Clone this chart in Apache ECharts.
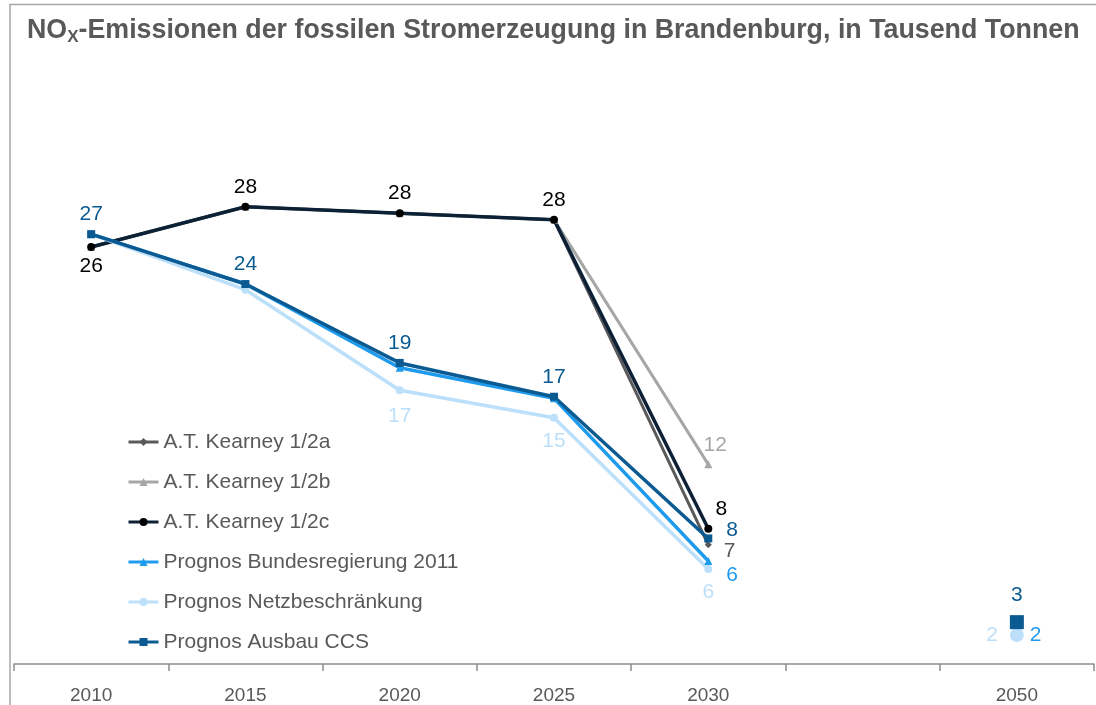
<!DOCTYPE html>
<html>
<head>
<meta charset="utf-8">
<script src="https://cdn.jsdelivr.net/npm/echarts@6/dist/echarts.min.js"></script>
<style>html,body{margin:0;padding:0;background:#fff;}#c{width:1096px;height:705px;}</style>
</head>
<body>
<div id="c"></div>
<script>
const categories = ['2010', '2015', '2020', '2025', '2030', '', '2050'];
const kearneyA = [25.9, 28.4, 28.0, 27.6, 7.4, null, null];
const kearneyB = [25.9, 28.4, 28.0, 27.6, 12.4, null, null];
const kearneyC = [25.9, 28.4, 28.0, 27.6, 8.4, null, null];
const bundes = [26.7, 23.6, 18.4, 16.5, 6.4, null, 1.8];
const netz = [26.7, 23.25, 17.0, 15.3, 5.9, null, 1.8];
const ccs = [26.7, 23.6, 18.7, 16.6, 7.8, null, 2.6];
const seriesNames = ['A.T. Kearney 1/2a', 'A.T. Kearney 1/2b', 'A.T. Kearney 1/2c',
  'Prognos Bundesregierung 2011', 'Prognos Netzbeschränkung', 'Prognos Ausbau CCS'];

const FONT = '"Liberation Sans", Arial, sans-serif';

// label placement per series / data index (style only)
const labelCfg = {
  kA: {4: {position: 'right', distance: 12, offset: [0, 6]}},
  kB: {4: {position: 'top', distance: 5, offset: [7, 0]}},
  kC: {0: {position: 'bottom', distance: 5}, 1: {position: 'top'}, 2: {position: 'top'}, 3: {position: 'top'},
       4: {position: 'top', distance: 5, offset: [13, 0]}},
  bu: {4: {position: 'right', distance: 14, offset: [0, 14]}, 6: {position: 'right', distance: 9}},
  ne: {2: {position: 'bottom', distance: 11}, 3: {position: 'bottom', distance: 9}, 4: {position: 'bottom', distance: 9},
       6: {position: 'left', distance: 12}},
  cc: {0: {position: 'top'}, 1: {position: 'top'}, 2: {position: 'top'}, 3: {position: 'top'},
       4: {position: 'right', distance: 14, offset: [0, -8]}, 6: {position: 'top', distance: 5, offset: [0, -4]}}
};

function build(values, key, labelColor) {
  return values.map((v, i) => {
    const cfg = labelCfg[key][i];
    if (v === null) return null;
    return {
      value: v,
      label: cfg ? Object.assign({show: true, color: labelColor, fontSize: 21, fontFamily: FONT,
        formatter: p => String(Math.round(p.value))}, cfg) : {show: false}
    };
  });
}

function mk(name, values, key, opt) {
  return {
    name: name,
    type: 'line',
    data: build(values, key, opt.labelColor),
    symbol: opt.symbol,
    symbolSize: (val, p) => p.dataIndex === 6 ? opt.bigSize : opt.size,
    showAllSymbol: true,
    lineStyle: {color: opt.line, width: opt.width || 3.5},
    itemStyle: {color: opt.marker || opt.line},
    emphasis: {disabled: true},
    animation: false,
    z: opt.z
  };
}

const chart = echarts.init(document.getElementById('c'), null, {renderer: 'canvas'});
chart.setOption({
  backgroundColor: '#ffffff',
  animation: false,
  title: {
    text: '{a|NO}{s|X}{a|-Emissionen der fossilen Stromerzeugung in Brandenburg, in Tausend Tonnen}',
    left: 22, top: 9,
    textStyle: {
      rich: {
        a: {fontSize: 26.8, fontWeight: 'bold', color: '#595959', fontFamily: FONT, lineHeight: 34},
        s: {fontSize: 17, fontWeight: 'bold', color: '#595959', fontFamily: FONT, lineHeight: 34, padding: [13, 0, 0, 0]}
      }
    }
  },
  graphic: [
    {type: 'polyline', shape: {points: [[10, 705], [10, 4.5], [1096, 4.5]]}, style: {stroke: '#A6A6A6', lineWidth: 1.5, fill: null}, silent: true}
  ],
  legend: {
    orient: 'vertical', left: 127, top: 430, padding: 0,
    itemWidth: 30, itemHeight: 10, itemGap: 16,
    lineStyle: {width: 3},
    textStyle: {color: '#595959', fontSize: 21, fontFamily: FONT, lineHeight: 24},
    data: seriesNames
  },
  grid: {left: 14, right: 2, top: 181, bottom: 41, containLabel: false},
  xAxis: {
    type: 'category', data: categories, boundaryGap: true,
    axisLine: {lineStyle: {color: '#8C8C8C', width: 1.5}},
    axisTick: {show: true, length: 7, lineStyle: {color: '#8C8C8C', width: 1.5}, interval: 0},
    axisLabel: {color: '#595959', fontSize: 19, fontFamily: FONT, margin: 22, interval: 0},
    splitLine: {show: false}
  },
  yAxis: {
    type: 'value', min: 0, max: 30, show: false, splitLine: {show: false}
  },
  series: [
    mk(seriesNames[0], kearneyA, 'kA', {line: '#595959', symbol: 'diamond', size: 7, bigSize: 7, labelColor: '#595959', width: 3, z: 2}),
    mk(seriesNames[1], kearneyB, 'kB', {line: '#A6A6A6', symbol: 'triangle', size: 8, bigSize: 8, labelColor: '#A6A6A6', width: 3, z: 2}),
    mk(seriesNames[2], kearneyC, 'kC', {line: '#0C2135', marker: '#000000', symbol: 'circle', size: 8, bigSize: 8, labelColor: '#000000', z: 2}),
    mk(seriesNames[3], bundes, 'bu', {line: '#1F9BEE', symbol: 'triangle', size: 8, bigSize: 8, labelColor: '#1F9BEE', z: 2}),
    mk(seriesNames[4], netz, 'ne', {line: '#BCDFFA', symbol: 'circle', size: 8, bigSize: 14, labelColor: '#BCDFFA', z: 2}),
    mk(seriesNames[5], ccs, 'cc', {line: '#0B5A92', symbol: 'rect', size: 8, bigSize: 14, labelColor: '#0B5A92', z: 2})
  ]
});
</script>
</body>
</html>
